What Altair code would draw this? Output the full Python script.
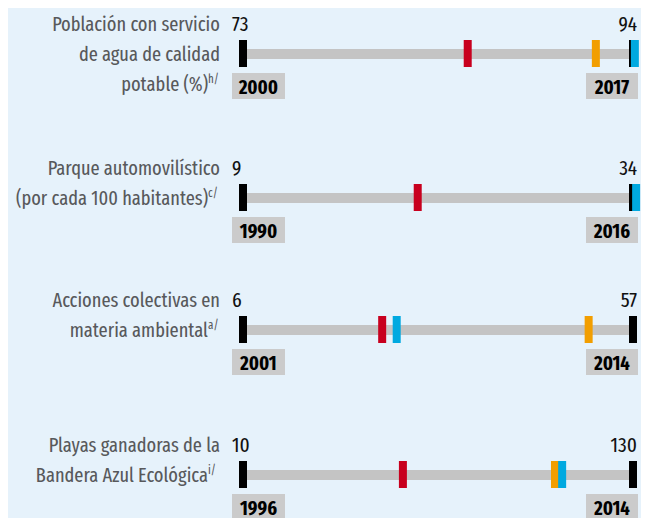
import altair as alt
import pandas as pd

# ---- data ----
label_lines = [
    ["Población con servicio", "de agua de calidad", "potable (%)"],
    ["Parque automovilístico", "(por cada 100 habitantes)"],
    ["Acciones colectivas en", "materia ambiental"],
    ["Playas ganadoras de la", "Bandera Azul Ecológica"],
]
notes = ["h/", "c/", "a/", "i/"]
start_values = [73, 9, 6, 10]
end_values = [94, 34, 57, 130]
start_years = ["2000", "1990", "2001", "1996"]
end_years = ["2017", "2016", "2014", "2014"]
red_values = [85.1, 20.2, 24.2, 59.2]
orange_values = [92.0, None, 51.2, 106.0]
blue_values = [94.1, 34.2, 26.1, 108.2]

# ---- styles ----
FONT = "Fira Sans Extra Condensed, Fira Sans Condensed, Roboto Condensed, sans-serif"
BG = "#e6f2fb"
BAR_GRAY = "#c4c4c4"
BOX_GRAY = "#cbcbcb"
LABEL_COLOR = "#58595b"
KINDS = ["inicio", "final", "rojo", "naranja", "azul"]
KIND_COLORS = ["#000000", "#000000", "#c8001e", "#f29e00", "#00a9e0"]

W = 390
HEIGHTS = [144, 132, 145, 91]
C = 46  # bar centre inside each panel


def panel(i, first=False):
    s, e = start_values[i], end_values[i]
    xscale = alt.Scale(domain=[s, e], nice=False, zero=False)
    base_df = pd.DataFrame({"start": [s], "end": [e],
                            "y0": [start_years[i]], "y1": [end_years[i]]})
    base = alt.Chart(base_df)

    bar = base.mark_rule(color=BAR_GRAY, strokeWidth=10, strokeCap="butt").encode(
        x=alt.X("start:Q", scale=xscale, axis=None), x2="end:Q", y=alt.value(C))

    ticks_rows = [("inicio", s), ("final", e)]
    for k, v in (("rojo", red_values[i]), ("naranja", orange_values[i]), ("azul", blue_values[i])):
        if v is not None:
            ticks_rows.append((k, v))
    tdf = pd.DataFrame(ticks_rows, columns=["kind", "value"])
    ticks = alt.Chart(tdf).mark_rule(strokeWidth=8, strokeCap="butt").encode(
        x=alt.X("value:Q", scale=xscale, axis=None),
        y=alt.value(C - 14), y2=alt.value(C + 13),
        color=alt.Color("kind:N", scale=alt.Scale(domain=KINDS, range=KIND_COLORS), legend=None))

    num_start = base.mark_text(align="left", baseline="alphabetic", dx=-11, fontSize=21,
                               font=FONT, color="#111111").encode(
        x=alt.X("start:Q", scale=xscale, axis=None), y=alt.value(C - 23), text="start:Q")
    num_end = base.mark_text(align="right", baseline="alphabetic", dx=4, fontSize=21,
                             font=FONT, color="#111111").encode(
        x=alt.X("end:Q", scale=xscale, axis=None), y=alt.value(C - 23), text="end:Q")

    box_start = base.mark_rect(color=BOX_GRAY, xOffset=-11, x2Offset=42).encode(
        x=alt.X("start:Q", scale=xscale, axis=None), x2="start:Q",
        y=alt.value(C + 19), y2=alt.value(C + 45))
    box_end = base.mark_rect(color=BOX_GRAY, xOffset=-47, x2Offset=5).encode(
        x=alt.X("end:Q", scale=xscale, axis=None), x2="end:Q",
        y=alt.value(C + 19), y2=alt.value(C + 45))
    yr_start = base.mark_text(align="center", baseline="alphabetic", dx=15.5, fontSize=20,
                              fontWeight="bold", font=FONT, color="#000000").encode(
        x=alt.X("start:Q", scale=xscale, axis=None), y=alt.value(C + 40), text="y0:N")
    yr_end = base.mark_text(align="center", baseline="alphabetic", dx=-21, fontSize=20,
                            fontWeight="bold", font=FONT, color="#000000").encode(
        x=alt.X("end:Q", scale=xscale, axis=None), y=alt.value(C + 40), text="y1:N")

    lines = label_lines[i]
    n = len(lines)
    head = "\n".join(lines[:-1])
    lab_df = pd.DataFrame({"head": [head], "last": [lines[-1]], "note": [notes[i]]})
    lab = alt.Chart(lab_df)
    lab_head = lab.mark_text(align="right", baseline="alphabetic", fontSize=20, font=FONT,
                             color=LABEL_COLOR, lineBreak="\n", lineHeight=30).encode(
        x=alt.value(-23), y=alt.value(C - 23), text="head:N")
    lab_last = lab.mark_text(align="right", baseline="alphabetic", fontSize=20, font=FONT,
                             color=LABEL_COLOR).encode(
        x=alt.value(-35), y=alt.value(C - 23 + 30 * (n - 1)), text="last:N")
    lab_note = lab.mark_text(align="left", baseline="alphabetic", fontSize=12, font=FONT,
                             color=LABEL_COLOR).encode(
        x=alt.value(-35), y=alt.value(C - 23 + 30 * (n - 1) - 8), text="note:N")

    layers = [bar, ticks, num_start, num_end, box_start, box_end, yr_start, yr_end,
              lab_head, lab_last, lab_note]
    if first:
        spacer = alt.Chart(base_df).mark_rule(opacity=0, strokeWidth=0.1).encode(
            x=alt.value(-235), x2=alt.value(-235), y=alt.value(10), y2=alt.value(11))
        layers.append(spacer)
    return alt.layer(*layers).properties(width=W, height=HEIGHTS[i])


chart = alt.vconcat(*[panel(i, first=(i == 0)) for i in range(4)],
                    spacing=0, bounds="flush").properties(
    background=BG, padding={"left": 0, "top": 0, "right": 0, "bottom": 0}
).configure_view(stroke=None)

chart.save("out.html", embed_options={"renderer": "svg", "actions": False})
